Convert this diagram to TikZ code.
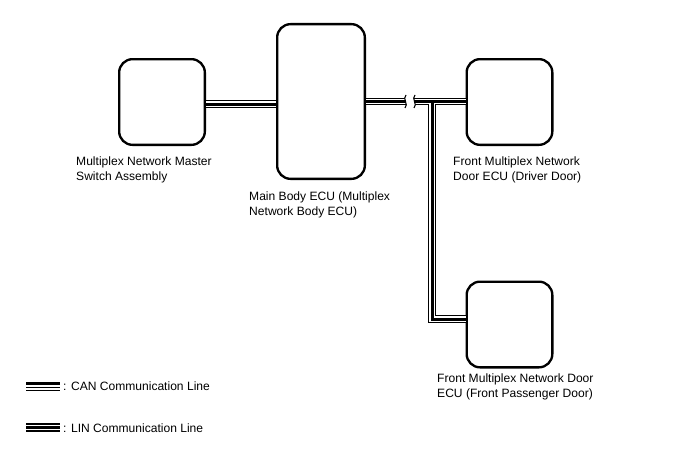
\documentclass[tikz,border=0pt]{standalone}
\usepackage{fontspec}
\setmainfont{Liberation Sans}
\usetikzlibrary{positioning,calc}
\tikzset{
  ecu/.style={draw, line width=0.7mm, rounded corners=4mm, inner sep=0pt,
              minimum width=25.7mm, minimum height=25.7mm},
  lbl/.style={anchor=north west, inner sep=0pt, align=left,
              font=\fontsize{10.3}{12.8}\selectfont},
  thinln/.style={line width=0.33mm},
  thickln/.style={line width=0.9mm},
}

\begin{document}
\begin{tikzpicture}[x=0.3mm, y=-0.3mm]
  \useasboundingbox (0,0) rectangle (688,463);

  % ECUs
  \node[ecu] (ms) at (162,102) {};
  \node[ecu, minimum width=26.3mm, minimum height=46.4mm] (mb) at (321,101.5) {};
  \node[ecu] (dd) at (509.5,102) {};
  \node[ecu] (pd) at (509.5,324.5) {};

  \node[lbl] (mslbl) at (76,157) {Multiplex Network Master\\Switch Assembly};
  \node[lbl] (mblbl) at (249,192) {Main Body ECU (Multiplex\\Network Body ECU)};
  \node[lbl] (ddlbl) at (453,157) {Front Multiplex Network\\Door ECU (Driver Door)};
  \node[lbl] (pdlbl) at (437,374) {Front Multiplex Network Door\\ECU (Front Passenger Door)};

  % LIN lines (outer, gap, centre)
  \coordinate (tj) at ($(mb.east -| 432,0)$);
  \coordinate (bend) at ($(tj |- pd.west) + (0,-5.5)$);
  \foreach \w/\c in {2.34mm/black, 1.62mm/white, 0.9mm/black} {
    \draw[line width=\w, \c] ([yshift=-0.6mm]ms.east) -- ([yshift=-0.6mm]ms.east -| mb.west);
    \draw[line width=\w, \c] (mb.east) -- (mb.east -| dd.west);
    \draw[line width=\w, \c] (tj) -- (bend) -- (bend -| pd.west);
  }

  % break mark
  \fill[white] (406,95) .. controls (402,99) and (409,104) .. (405,108)
    -- (414,108) .. controls (418,104) and (411,99) .. (415,95) -- cycle;
  \draw[thinln] (406,95) .. controls (402,99) and (409,104) .. (405,108);
  \draw[thinln] (415,95) .. controls (411,99) and (418,104) .. (414,108);

  % legend
  \draw[thickln] (26,383.5) -- (60,383.5);
  \draw[thinln] (26,387.5) -- (60,387.5);
  \draw[thinln] (26,390.5) -- (60,390.5);
  \node[lbl, anchor=west] (canlbl) at (63,386.5) {: CAN Communication Line};

  \draw[thinln] (26,424) -- (60,424);
  \draw[thickln] (26,427.5) -- (60,427.5);
  \draw[thinln] (26,431) -- (60,431);
  \node[lbl, anchor=west] (linlbl) at (63,428) {: LIN Communication Line};
\end{tikzpicture}
\end{document}
